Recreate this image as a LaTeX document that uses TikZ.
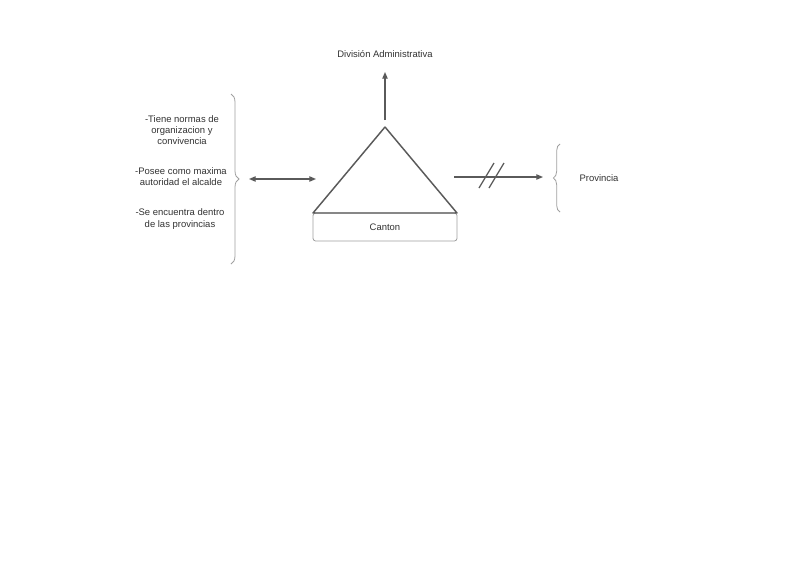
\documentclass[tikz,border=0pt]{standalone}
\usepackage{fontspec}
\setmainfont{Liberation Sans}
\usetikzlibrary{arrows.meta,decorations.pathreplacing}
\definecolor{linegray}{HTML}{5A5A5A}
\definecolor{bracegray}{HTML}{A0A0A0}
\definecolor{textgray}{HTML}{333333}

\begin{document}
\begin{tikzpicture}[x=0.75pt,y=-0.75pt,
	label/.style={text=textgray, font=\fontsize{7.1}{8.5}\selectfont, align=center, inner sep=0pt},
	conn/.style={draw=linegray, line width=0.95pt, -{Triangle[length=5pt,width=4pt]}},
	curly/.style={draw=bracegray, line width=0.6pt, decorate, decoration={brace, amplitude=#1}}]
			\fill[white] (0,0) rectangle (800,565);
			\useasboundingbox (0,0) rectangle (800,565);
			
			\coordinate (top) at (385,127);
			\coordinate (bl) at (313,213);
			\coordinate (br) at (457,213);
			\node[draw=bracegray, line width=0.6pt, rounded corners=2pt, minimum width=108pt, minimum height=21pt, label] (canton) at (385,227) {Canton};
			\draw[linegray, line width=1.1pt, line join=round] (top) -- (br) -- (bl) -- cycle;
			
			\node[label] (division) at (385,54) {División Administrativa};
			\coordinate (divtip) at (385,72);
			\coordinate (apexgap) at (385,120);
			\draw[conn] (apexgap) -- (divtip);
			
			\node[label] (normas) at (182,130) {-Tiene normas de\\organizacion y\\convivencia};
			\node[label] (posee) at (181,176.5) {-Posee como maxima\\autoridad el alcalde};
			\node[label] (dentro) at (180,219) {-Se encuentra dentro\\de las provincias};
			\draw[curly=6pt] (231,94) -- (231,264);
			
			\coordinate (leftend) at (249,179);
			\coordinate (triside) at (316,179);
			\draw[conn, {Triangle[length=5pt,width=4pt]}-{Triangle[length=5pt,width=4pt]}] (leftend) -- (triside);
			
			\coordinate (rightstart) at (454,177);
			\coordinate (righttip) at (543,177);
			\draw[conn] (rightstart) -- (righttip);
			\draw[linegray, line width=0.95pt] (479,188) -- (494,163);
			\draw[linegray, line width=0.95pt] (489,188) -- (504,163);
			
			\draw[curly=5pt] (560,212) -- (560,144);
			\node[label] (provincia) at (599,178) {Provincia};
		\end{tikzpicture}
\end{document}
